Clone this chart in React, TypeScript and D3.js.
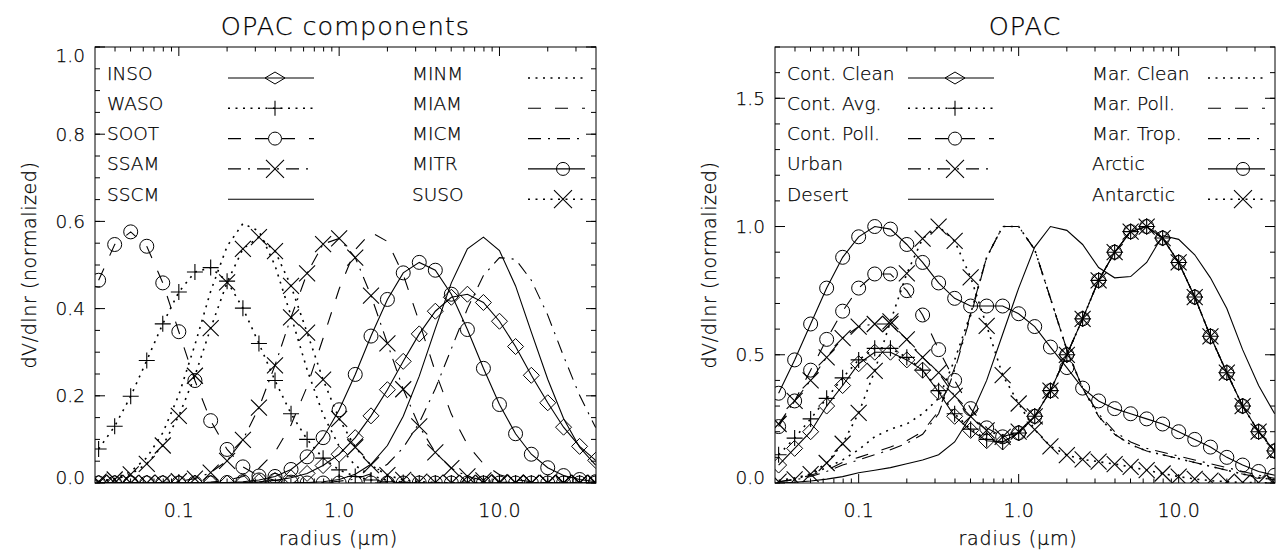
import React from 'react';
import * as d3 from 'd3';

// Radius grid (µm), ten points per decade
const radius = [
  0.0316, 0.0398, 0.0501, 0.0631, 0.0794, 0.1, 0.126, 0.158, 0.2, 0.251,
  0.316, 0.398, 0.501, 0.631, 0.794, 1.0, 1.26, 1.58, 2.0, 2.51,
  3.16, 3.98, 5.01, 6.31, 7.94, 10.0, 12.6, 15.8, 20.0, 25.1, 31.6, 39.8,
];

// OPAC components, dV/dlnr (normalized)
const inso = [0, 0, 0, 0, 0, 0, 0, 0, 0, 0.001, 0.003, 0.006, 0.012, 0.022, 0.04, 0.066, 0.104, 0.154, 0.214, 0.279, 0.342, 0.394, 0.426, 0.433, 0.414, 0.371, 0.313, 0.247, 0.184, 0.128, 0.084, 0.052];
const waso = [0.078, 0.13, 0.199, 0.281, 0.365, 0.438, 0.484, 0.494, 0.463, 0.401, 0.32, 0.235, 0.159, 0.1, 0.057, 0.03, 0.015, 0.007, 0.003, 0.001, 0, 0, 0, 0, 0, 0, 0, 0, 0, 0, 0, 0];
const soot = [0.465, 0.547, 0.576, 0.543, 0.459, 0.347, 0.235, 0.143, 0.077, 0.037, 0.016, 0.006, 0.002, 0, 0, 0, 0, 0, 0, 0, 0, 0, 0, 0, 0, 0, 0, 0, 0, 0, 0, 0];
const ssam = [0, 0, 0, 0, 0.001, 0.004, 0.01, 0.024, 0.051, 0.099, 0.173, 0.27, 0.38, 0.481, 0.548, 0.561, 0.517, 0.43, 0.32, 0.215, 0.13, 0.07, 0.034, 0.015, 0.006, 0.002, 0.001, 0, 0, 0, 0, 0];
const sscm = [0, 0, 0, 0, 0, 0, 0, 0, 0, 0, 0, 0, 0, 0.001, 0.003, 0.008, 0.02, 0.043, 0.086, 0.153, 0.245, 0.354, 0.459, 0.537, 0.564, 0.533, 0.452, 0.346, 0.238, 0.148, 0.082, 0.041];
const minm = [0.004, 0.01, 0.026, 0.058, 0.115, 0.202, 0.317, 0.44, 0.543, 0.595, 0.578, 0.499, 0.383, 0.26, 0.157, 0.084, 0.04, 0.017, 0.006, 0.002, 0, 0, 0, 0, 0, 0, 0, 0, 0, 0, 0, 0];
const miam = [0, 0, 0, 0, 0, 0, 0, 0.002, 0.006, 0.015, 0.034, 0.071, 0.133, 0.221, 0.332, 0.445, 0.535, 0.575, 0.554, 0.478, 0.369, 0.255, 0.158, 0.088, 0.044, 0.019, 0.008, 0.003, 0.001, 0, 0, 0];
const micm = [0, 0, 0, 0, 0, 0, 0, 0, 0, 0, 0, 0, 0, 0, 0.001, 0.004, 0.009, 0.021, 0.043, 0.081, 0.138, 0.216, 0.308, 0.4, 0.476, 0.517, 0.513, 0.465, 0.385, 0.291, 0.201, 0.127];
const mitr = [0, 0, 0, 0, 0, 0, 0, 0, 0.001, 0.003, 0.007, 0.015, 0.031, 0.06, 0.104, 0.168, 0.249, 0.337, 0.421, 0.482, 0.506, 0.488, 0.433, 0.352, 0.263, 0.18, 0.113, 0.066, 0.035, 0.017, 0.008, 0.003];
const suso = [0.003, 0.008, 0.02, 0.044, 0.086, 0.154, 0.246, 0.355, 0.46, 0.537, 0.564, 0.532, 0.452, 0.345, 0.237, 0.147, 0.082, 0.041, 0.018, 0.007, 0.003, 0.001, 0, 0, 0, 0, 0, 0, 0, 0, 0, 0];

// OPAC aerosol types, dV/dlnr (normalized)
const contClean = [0.07, 0.135, 0.2, 0.3, 0.38, 0.465, 0.51, 0.51, 0.48, 0.44, 0.355, 0.26, 0.205, 0.165, 0.16, 0.195, 0.26, 0.36, 0.5, 0.64, 0.79, 0.9, 0.98, 1.0, 0.955, 0.86, 0.725, 0.572, 0.43, 0.3, 0.2, 0.125];
const contAvg = [0.11, 0.175, 0.25, 0.33, 0.41, 0.48, 0.525, 0.525, 0.49, 0.44, 0.36, 0.27, 0.21, 0.17, 0.16, 0.195, 0.26, 0.36, 0.5, 0.64, 0.79, 0.9, 0.98, 1.0, 0.955, 0.86, 0.725, 0.572, 0.43, 0.3, 0.2, 0.125];
const contPoll = [0.22, 0.32, 0.44, 0.56, 0.67, 0.76, 0.815, 0.815, 0.75, 0.655, 0.52, 0.4, 0.29, 0.215, 0.18, 0.195, 0.26, 0.36, 0.5, 0.64, 0.79, 0.9, 0.98, 1.0, 0.955, 0.86, 0.725, 0.572, 0.43, 0.3, 0.2, 0.125];
const urban = [0.23, 0.32, 0.4, 0.49, 0.565, 0.61, 0.62, 0.62, 0.56, 0.49, 0.43, 0.34, 0.26, 0.205, 0.18, 0.2, 0.26, 0.36, 0.5, 0.64, 0.79, 0.9, 0.98, 1.0, 0.955, 0.86, 0.725, 0.572, 0.43, 0.3, 0.2, 0.125];
const desert = [0, 0.003, 0.008, 0.015, 0.025, 0.04, 0.05, 0.06, 0.075, 0.09, 0.11, 0.16, 0.26, 0.4, 0.58, 0.76, 0.92, 1.0, 0.985, 0.93, 0.84, 0.8, 0.805, 0.86, 0.965, 0.95, 0.89, 0.8, 0.68, 0.52, 0.38, 0.27];
const marClean = [0.01, 0.02, 0.035, 0.06, 0.09, 0.13, 0.18, 0.21, 0.23, 0.27, 0.33, 0.48, 0.66, 0.88, 1.0, 1.0, 0.91, 0.72, 0.52, 0.37, 0.26, 0.19, 0.15, 0.125, 0.11, 0.095, 0.08, 0.065, 0.05, 0.035, 0.022, 0.012];
const marPoll = [0.005, 0.015, 0.03, 0.05, 0.08, 0.1, 0.12, 0.14, 0.165, 0.2, 0.28, 0.45, 0.66, 0.88, 1.0, 1.0, 0.91, 0.72, 0.52, 0.37, 0.26, 0.19, 0.15, 0.125, 0.11, 0.095, 0.08, 0.065, 0.05, 0.035, 0.022, 0.012];
const marTrop = [0.005, 0.012, 0.025, 0.045, 0.07, 0.09, 0.11, 0.13, 0.155, 0.19, 0.27, 0.44, 0.65, 0.88, 1.0, 1.0, 0.91, 0.72, 0.52, 0.37, 0.27, 0.2, 0.16, 0.135, 0.12, 0.105, 0.09, 0.075, 0.06, 0.045, 0.03, 0.018];
const arctic = [0.35, 0.48, 0.62, 0.76, 0.88, 0.96, 1.0, 0.99, 0.93, 0.86, 0.78, 0.72, 0.69, 0.69, 0.69, 0.66, 0.61, 0.53, 0.45, 0.37, 0.32, 0.29, 0.27, 0.25, 0.23, 0.2, 0.17, 0.14, 0.1, 0.07, 0.045, 0.03];
const antarctic = [0.005, 0.014, 0.035, 0.078, 0.153, 0.273, 0.437, 0.63, 0.817, 0.953, 1.0, 0.944, 0.802, 0.613, 0.421, 0.31, 0.208, 0.143, 0.109, 0.092, 0.083, 0.074, 0.063, 0.05, 0.037, 0.025, 0.016, 0.009, 0.005, 0.002, 0.001, 0];

const xTickValues = [0.1, 1, 10];
const xTickLabels = ['0.1', '1.0', '10.0'];

type LineStyle = 'solid' | 'dotted' | 'dashed' | 'dashdot';
type Sym = 'none' | 'diamond' | 'plus' | 'circle' | 'cross';

interface Series {
  name: string;
  values: number[];
  line: LineStyle;
  sym: Sym;
}

const DASH: Record<LineStyle, string | undefined> = {
  solid: undefined,
  dotted: '2 5.5',
  dashed: '13 14',
  dashdot: '13 7 2 7',
};

const WIDTH: Record<LineStyle, number> = {
  solid: 1.1,
  dotted: 1.6,
  dashed: 1.1,
  dashdot: 1.1,
};

const componentSeries: Series[] = [
  { name: 'INSO', values: inso, line: 'solid', sym: 'diamond' },
  { name: 'WASO', values: waso, line: 'dotted', sym: 'plus' },
  { name: 'SOOT', values: soot, line: 'dashed', sym: 'circle' },
  { name: 'SSAM', values: ssam, line: 'dashdot', sym: 'cross' },
  { name: 'SSCM', values: sscm, line: 'solid', sym: 'none' },
  { name: 'MINM', values: minm, line: 'dotted', sym: 'none' },
  { name: 'MIAM', values: miam, line: 'dashed', sym: 'none' },
  { name: 'MICM', values: micm, line: 'dashdot', sym: 'none' },
  { name: 'MITR', values: mitr, line: 'solid', sym: 'circle' },
  { name: 'SUSO', values: suso, line: 'dotted', sym: 'cross' },
];

const typeSeries: Series[] = [
  { name: 'Cont. Clean', values: contClean, line: 'solid', sym: 'diamond' },
  { name: 'Cont. Avg.', values: contAvg, line: 'dotted', sym: 'plus' },
  { name: 'Cont. Poll.', values: contPoll, line: 'dashed', sym: 'circle' },
  { name: 'Urban', values: urban, line: 'dashdot', sym: 'cross' },
  { name: 'Desert', values: desert, line: 'solid', sym: 'none' },
  { name: 'Mar. Clean', values: marClean, line: 'dotted', sym: 'none' },
  { name: 'Mar. Poll.', values: marPoll, line: 'dashed', sym: 'none' },
  { name: 'Mar. Trop.', values: marTrop, line: 'dashdot', sym: 'none' },
  { name: 'Arctic', values: arctic, line: 'solid', sym: 'circle' },
  { name: 'Antarctic', values: antarctic, line: 'dotted', sym: 'cross' },
];

const FONT = '"DejaVu Sans", "Liberation Sans", sans-serif';
const INK = '#000';
const TOP = 47;
const BOTTOM = 483;

const textProps = {
  fontFamily: FONT,
  fontWeight: 200,
  fill: INK,
  stroke: INK,
  strokeWidth: 0.25,
};

function Marker({ sym, x, y, s, sy }: { sym: Sym; x: number; y: number; s: number; sy?: number }) {
  const h = sy ?? s;
  switch (sym) {
    case 'diamond':
      return <path d={`M${x - s},${y}L${x},${y - h}L${x + s},${y}L${x},${y + h}Z`} fill="none" stroke={INK} strokeWidth={1} />;
    case 'plus':
      return <path d={`M${x - s},${y}H${x + s}M${x},${y - h}V${y + h}`} fill="none" stroke={INK} strokeWidth={1.1} />;
    case 'circle':
      return <circle cx={x} cy={y} r={s} fill="none" stroke={INK} strokeWidth={1} />;
    case 'cross':
      return <path d={`M${x - s},${y - h}L${x + s},${y + h}M${x - s},${y + h}L${x + s},${y - h}`} fill="none" stroke={INK} strokeWidth={1.1} />;
    default:
      return null;
  }
}

const LEGEND_SIZE: Record<Sym, [number, number]> = {
  none: [0, 0],
  diamond: [10, 6],
  plus: [7, 7.5],
  circle: [6.5, 6.5],
  cross: [9, 9],
};

const PLOT_SIZE: Record<Sym, number> = {
  none: 0,
  diamond: 8,
  plus: 8,
  circle: 7,
  cross: 8,
};

interface PanelProps {
  id: string;
  left: number;
  right: number;
  yMax: number;
  yMajor: number;
  yMinor: number;
  title: string;
  series: Series[];
}

function Panel({ id, left, right, yMax, yMajor, yMinor, title, series }: PanelProps) {
  const x = d3.scaleLog().domain([0.03, 40]).range([left, right]);
  const y = d3.scaleLinear().domain([0, yMax]).range([BOTTOM, TOP]);
  const line = d3
    .line<number>()
    .x((_, i) => x(radius[i]))
    .y((d) => y(d));

  const majorY = d3.range(0, yMax + 1e-9, yMajor);
  const minorY = d3.range(0, yMax + 1e-9, yMinor);
  const minorX: number[] = [];
  for (let e = -2; e <= 1; e++) {
    for (let m = 2; m <= 9; m++) {
      const v = m * Math.pow(10, e);
      if (v > 0.03 && v < 40) minorX.push(v);
    }
  }

  const cx = (left + right) / 2;
  const rowY = (i: number) => 78 + 30.3 * i;
  const cols = [
    { label: left + 12, x0: left + 133, x1: left + 219, sx: left + 180 },
    { label: left + 317, x0: left + 433, x1: left + 490, sx: left + 468 },
  ];

  return (
    <g>
      <defs>
        <clipPath id={`clip-${id}`}>
          <rect x={left} y={TOP} width={right - left} height={BOTTOM - TOP} />
        </clipPath>
      </defs>

      <text x={cx} y={35} textAnchor="middle" fontSize={25.5} letterSpacing={1} {...textProps}>
        {title}
      </text>

      {/* curves and their markers */}
      <g clipPath={`url(#clip-${id})`}>
        {series.map((s) => (
          <g key={s.name}>
            <path d={line(s.values) ?? ''} fill="none" stroke={INK} strokeWidth={WIDTH[s.line]} strokeDasharray={DASH[s.line]} />
            {s.sym !== 'none' &&
              s.values.map((v, i) => <Marker key={i} sym={s.sym} x={x(radius[i])} y={y(v)} s={PLOT_SIZE[s.sym]} />)}
          </g>
        ))}
      </g>

      {/* frame */}
      <rect x={left} y={TOP} width={right - left} height={BOTTOM - TOP} fill="none" stroke={INK} strokeWidth={1} />

      {/* y ticks */}
      {minorY.map((v, i) => (
        <g key={`ym${i}`}>
          <line x1={left} x2={left + 5} y1={y(v)} y2={y(v)} stroke={INK} />
          <line x1={right} x2={right - 5} y1={y(v)} y2={y(v)} stroke={INK} />
        </g>
      ))}
      {majorY.map((v, i) => (
        <g key={`yM${i}`}>
          <line x1={left} x2={left + 10} y1={y(v)} y2={y(v)} stroke={INK} />
          <line x1={right} x2={right - 10} y1={y(v)} y2={y(v)} stroke={INK} />
          <text
            x={left - 10}
            y={Math.min(Math.max(y(v), TOP + 8), BOTTOM - 5.5)}
            dy="0.36em"
            textAnchor="end"
            fontSize={18.5}
            {...textProps}
          >
            {d3.format('.1f')(v)}
          </text>
        </g>
      ))}

      {/* x ticks */}
      {minorX.map((v, i) => (
        <g key={`xm${i}`}>
          <line x1={x(v)} x2={x(v)} y1={BOTTOM} y2={BOTTOM - 4.5} stroke={INK} />
          <line x1={x(v)} x2={x(v)} y1={TOP} y2={TOP + 4.5} stroke={INK} />
        </g>
      ))}
      {xTickValues.map((v, i) => (
        <g key={`xM${i}`}>
          <line x1={x(v)} x2={x(v)} y1={BOTTOM} y2={BOTTOM - 9} stroke={INK} />
          <line x1={x(v)} x2={x(v)} y1={TOP} y2={TOP + 9} stroke={INK} />
          <text x={x(v)} y={516.5} textAnchor="middle" fontSize={19} {...textProps}>
            {xTickLabels[i]}
          </text>
        </g>
      ))}

      {/* axis titles */}
      <text x={cx - 7} y={545} textAnchor="middle" fontSize={19} letterSpacing={0.8} {...textProps}>
        radius (μm)
      </text>
      <text
        transform={`translate(${left - 59.5},${(TOP + BOTTOM) / 2}) rotate(-90)`}
        textAnchor="middle"
        fontSize={19}
        letterSpacing={0.6}
        {...textProps}
      >
        dV/dlnr (normalized)
      </text>

      {/* legend */}
      {series.map((s, k) => {
        const col = cols[Math.floor(k / 5)];
        const ly = rowY(k % 5);
        const [sw, sh] = LEGEND_SIZE[s.sym];
        return (
          <g key={`lg${k}`}>
            <text x={col.label} y={ly + 1.5} fontSize={18.5} {...textProps}>
              {s.name}
            </text>
            <line x1={col.x0} x2={col.x1} y1={ly} y2={ly} stroke={INK} strokeWidth={WIDTH[s.line]} strokeDasharray={DASH[s.line]} />
            <Marker sym={s.sym} x={col.sx} y={ly} s={sw} sy={sh} />
          </g>
        );
      })}
    </g>
  );
}

export default function App() {
  return (
    <div style={{ position: 'absolute', left: 0, top: 0, width: 1276, height: 550, background: '#fff' }}>
      <svg width={1276} height={550} viewBox="0 0 1276 550" style={{ display: 'block' }}>
        <rect width={1276} height={550} fill="#fff" />
        <Panel id="comp" left={95} right={596} yMax={1.0} yMajor={0.2} yMinor={0.05} title="OPAC components" series={componentSeries} />
        <Panel id="types" left={775} right={1275} yMax={1.7} yMajor={0.5} yMinor={0.1} title="OPAC" series={typeSeries} />
      </svg>
    </div>
  );
}
